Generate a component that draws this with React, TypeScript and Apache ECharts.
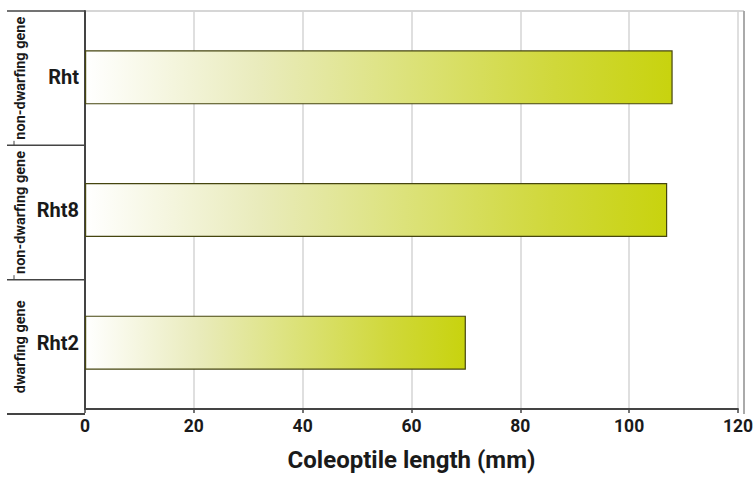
import React, { useEffect, useRef } from "react";
import * as echarts from "echarts";

const categories = ["Rht2", "Rht8", "Rht"];
const groupLabels = ["dwarfing gene", "non-dwarfing gene", "non-dwarfing gene"];
const lengths = [70, 107, 108];
const xTicks = { min: 0, max: 120, interval: 20 };
const axisTitle = "Coleoptile length (mm)";

const FONT = 'Roboto, "Liberation Sans", sans-serif';

export default function App() {
  const ref = useRef<HTMLDivElement>(null);
  useEffect(() => {
    if (!ref.current) return;
    document.body.style.margin = "0";
    document.body.style.overflow = "hidden";
    const W = 756, H = 477;
    const chart = echarts.init(ref.current, undefined, { renderer: "svg", width: W, height: H });
    const left = 85, right = 12, top = 11, bottom = 63;
    const plotH = H - top - bottom;
    const band = plotH / categories.length;
    const graphics: any[] = [];
    graphics.push({ type: "line", shape: { x1: 7, y1: H - bottom, x2: left, y2: H - bottom }, style: { stroke: "#444", lineWidth: 2 } });
    graphics.push({ type: "line", shape: { x1: 7, y1: top, x2: left, y2: top }, style: { stroke: "#444", lineWidth: 1.5 } });
    graphics.push({ type: "line", shape: { x1: left, y1: top, x2: W - right, y2: top }, style: { stroke: "#c8c8c8", lineWidth: 1.5 } });
    graphics.push({ type: "line", shape: { x1: W - right, y1: top, x2: W - right, y2: H - bottom }, style: { stroke: "#aaaaaa", lineWidth: 2 } });
    for (let i = 1; i < categories.length; i++) {
      const y = top + band * i;
      graphics.push({ type: "line", shape: { x1: 7, y1: y, x2: left, y2: y }, style: { stroke: "#444", lineWidth: 1.5 } });
      graphics.push({ type: "line", shape: { x1: 14, y1: y - 4.5, x2: 14, y2: y }, style: { stroke: "#444", lineWidth: 1 } });
    }
    groupLabels.forEach((g, i) => {
      const cy = top + plotH - band * (i + 0.5);
      graphics.push({
        type: "text",
        x: 20,
        y: cy,
        rotation: Math.PI / 2,
        style: { text: g, font: `bold 14.5px ${FONT}`, fill: "#1a1a1a", align: "center", verticalAlign: "middle" },
      });
    });

    chart.setOption({
      animation: false,
      grid: { left, right, top, bottom, containLabel: false },
      xAxis: {
        type: "value",
        min: xTicks.min,
        max: xTicks.max,
        interval: xTicks.interval,
        name: axisTitle,
        nameLocation: "middle",
        nameGap: 39,
        nameTextStyle: { fontFamily: FONT, fontWeight: "bold", fontSize: 24, color: "#1a1a1a" },
        axisLine: { show: true, lineStyle: { color: "#444", width: 2 } },
        axisTick: { show: true, length: 4, lineStyle: { color: "#444", width: 1.5 } },
        axisLabel: { fontFamily: FONT, fontWeight: "bold", fontSize: 17.5, color: "#1a1a1a", margin: 8 },
        splitLine: { show: true, lineStyle: { color: "#d4d4d4", width: 1.5 } },
      },
      yAxis: {
        type: "category",
        data: categories,
        axisLine: { show: true, lineStyle: { color: "#444", width: 2 } },
        axisTick: { show: false },
        axisLabel: { fontFamily: FONT, fontWeight: "bold", fontSize: 20, color: "#1a1a1a", margin: 6 },
        splitLine: { show: false },
      },
      series: [
        {
          type: "bar",
          data: lengths,
          barWidth: 54,
          itemStyle: {
            color: new echarts.graphic.LinearGradient(0, 0, 1, 0, [
              { offset: 0, color: "#ffffff" },
              { offset: 0.3, color: "#e9ebbb" },
              { offset: 0.55, color: "#dce27a" },
              { offset: 0.8, color: "#d0d83a" },
              { offset: 1, color: "#c8d30e" },
            ]),
            borderColor: "#45450f",
            borderWidth: 1.2,
          },
        },
      ],
      graphic: graphics,
    });
    return () => chart.dispose();
  }, []);
  return <div ref={ref} style={{ width: 756, height: 477, overflow: "hidden" }} />;
}
